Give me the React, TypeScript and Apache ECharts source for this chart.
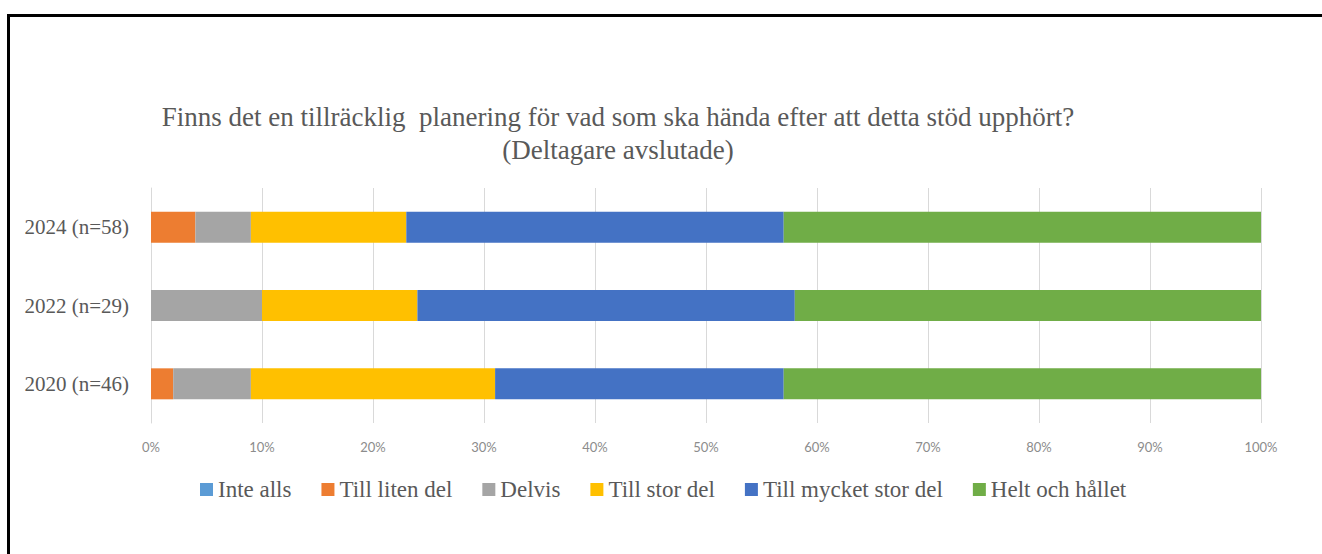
import React, { useEffect, useRef } from "react";
import * as echarts from "echarts";

const categories = ["2020 (n=46)", "2022 (n=29)", "2024 (n=58)"];
const seriesNames = ["Inte alls", "Till liten del", "Delvis", "Till stor del", "Till mycket stor del", "Helt och hållet"];
const colors = ["#5b9bd5", "#ed7d31", "#a5a5a5", "#ffc000", "#4472c4", "#70ad47"];
const inteAlls = [0, 0, 0];
const tillLiten = [2, 0, 4];
const delvis = [7, 10, 5];
const tillStor = [22, 14, 14];
const tillMycket = [26, 34, 34];
const heltOch = [43, 42, 43];
const seriesValues = [inteAlls, tillLiten, delvis, tillStor, tillMycket, heltOch];

export default function App() {
  const ref = useRef<HTMLDivElement>(null);
  useEffect(() => {
    document.body.style.margin = "0";
    const chart = echarts.init(ref.current!, null, { renderer: "svg" });
    chart.setOption({
      animation: false,
      backgroundColor: "#ffffff",
      title: {
        text: "Finns det en tillräcklig  planering för vad som ska hända efter att detta stöd upphört?\n(Deltagare avslutade)",
        left: 613,
        top: 95,
        textAlign: "center",
        textStyle: {
          fontFamily: "Liberation Serif",
          fontSize: 27,
          fontWeight: "normal",
          color: "#595959",
          lineHeight: 33,
        },
      },
      graphic: [
        { type: "line", shape: { x1: 8.5, y1: 15, x2: 8.5, y2: 554 }, style: { stroke: "#000", lineWidth: 3 } },
        { type: "line", shape: { x1: 7, y1: 15.5, x2: 1322, y2: 15.5 }, style: { stroke: "#000", lineWidth: 3 } },
      ],
      legend: {
        data: seriesNames,
        left: 195,
        top: 473,
        itemWidth: 13,
        itemHeight: 13,
        itemGap: 30,
        icon: "rect",
        textStyle: { fontFamily: "Liberation Serif", fontSize: 23, color: "#595959" },
      },
      grid: { left: 151, right: 61, top: 188, bottom: 131 },
      xAxis: {
        type: "value",
        min: 0,
        max: 100,
        interval: 10,
        axisLine: { show: false },
        axisTick: { show: false },
        splitLine: { show: true, lineStyle: { color: "#d9d9d9", width: 1 } },
        axisLabel: {
          formatter: "{value}%",
          fontFamily: "Lato",
          fontSize: 13,
          color: "#8c8c8c",
          margin: 17,
        },
      },
      yAxis: {
        type: "category",
        data: categories,
        axisLine: { show: true, lineStyle: { color: "#d9d9d9" } },
        axisTick: { show: false },
        axisLabel: {
          fontFamily: "Liberation Serif",
          fontSize: 21,
          color: "#595959",
          margin: 22,
        },
      },
      series: seriesNames.map((name, i) => ({
        name,
        type: "bar",
        stack: "total",
        data: seriesValues[i],
        barWidth: 31,
        itemStyle: { color: colors[i] },
      })),
    });
    return () => chart.dispose();
  }, []);
  return <div ref={ref} style={{ width: 1322, height: 554 }} />;
}
